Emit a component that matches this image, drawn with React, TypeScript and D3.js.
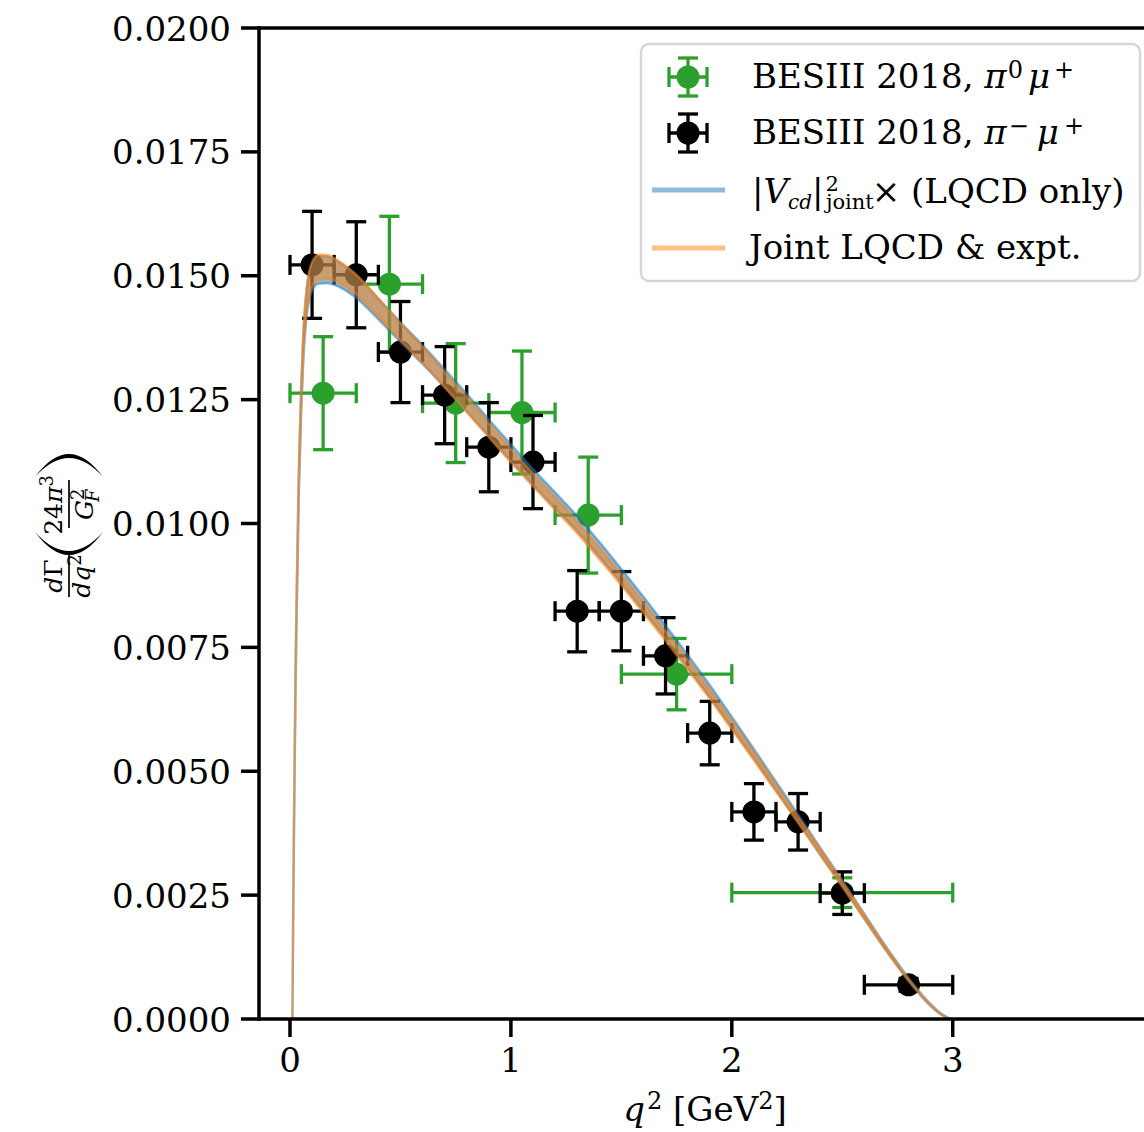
import React from "react";
import * as d3 from "d3";

// ---------- data ----------
const pi0X = [0.15, 0.45, 0.75, 1.05, 1.35, 1.75, 2.5];
const pi0Xerr = [0.15, 0.15, 0.15, 0.15, 0.15, 0.25, 0.5];
const pi0Y = [0.01263, 0.01483, 0.01243, 0.01224, 0.01017, 0.00696, 0.00255];
const pi0Yerr = [0.00114, 0.00137, 0.0012, 0.00124, 0.00117, 0.00072, 0.0003];

const piMX = [0.1, 0.3, 0.5, 0.7, 0.9, 1.1, 1.3, 1.5, 1.7, 1.9, 2.1, 2.3, 2.5, 2.8];
const piMXerr = [0.1, 0.1, 0.1, 0.1, 0.1, 0.1, 0.1, 0.1, 0.1, 0.1, 0.1, 0.1, 0.1, 0.2];
const piMY = [0.01522, 0.01502, 0.01346, 0.01259, 0.01154, 0.01124, 0.00823, 0.00823, 0.00733, 0.00577, 0.00418, 0.00398, 0.00254, 0.00069];
const piMYerr = [0.00108, 0.00107, 0.00102, 0.00098, 0.0009, 0.00094, 0.00082, 0.0008, 0.00077, 0.00064, 0.00057, 0.00057, 0.00043, 0.00013];

const qGrid = [0.0112, 0.014, 0.017, 0.02, 0.025, 0.03, 0.04, 0.05, 0.06, 0.075, 0.1, 0.13, 0.17, 0.22, 0.3, 0.4, 0.5, 0.6, 0.7, 0.8, 0.9, 1.0, 1.1, 1.2, 1.3, 1.4, 1.5, 1.6, 1.7, 1.8, 1.9, 2.0, 2.1, 2.2, 2.3, 2.4, 2.5, 2.6, 2.7, 2.8, 2.9, 2.95, 2.99];
const jointCentral = [0, 0.0018, 0.0034, 0.0047, 0.0068, 0.0084, 0.0109, 0.0125, 0.0136, 0.0145, 0.01503, 0.01518, 0.01518, 0.01508, 0.01482, 0.01436, 0.01387, 0.0134, 0.0129, 0.0124, 0.01188, 0.01137, 0.01088, 0.0104, 0.00992, 0.0094, 0.00886, 0.0083, 0.00773, 0.00715, 0.00655, 0.00593, 0.0053, 0.00466, 0.00402, 0.00337, 0.00272, 0.00206, 0.0014, 0.00079, 0.00028, 0.00009, 0];
const jointHalf = [0, 0.00005, 0.0001, 0.00013, 0.00016, 0.00018, 0.0002, 0.00022, 0.00023, 0.00024, 0.00025, 0.00025, 0.00024, 0.00022, 0.0002, 0.00018, 0.00017, 0.00016, 0.00015, 0.00015, 0.00014, 0.00014, 0.00013, 0.00013, 0.00012, 0.00012, 0.00011, 0.00011, 0.0001, 0.0001, 0.00009, 0.00009, 0.00008, 0.00007, 0.00006, 0.00006, 0.00005, 0.00004, 0.00003, 0.00002, 0.00001, 0.000005, 0];
const lqcdCentral = [0, 0.0018, 0.0034, 0.0047, 0.0068, 0.0083, 0.0108, 0.0124, 0.01352, 0.01443, 0.01497, 0.01512, 0.01512, 0.01503, 0.01478, 0.01433, 0.01386, 0.01341, 0.01293, 0.01244, 0.01193, 0.01143, 0.01094, 0.01047, 0.01, 0.00948, 0.00894, 0.00838, 0.00781, 0.00722, 0.00662, 0.00599, 0.00535, 0.0047, 0.00405, 0.00339, 0.00274, 0.00207, 0.00141, 0.0008, 0.00028, 0.00009, 0];
const lqcdHalf = [0, 0.00006, 0.00011, 0.00015, 0.00018, 0.0002, 0.00023, 0.00025, 0.00026, 0.00027, 0.00028, 0.00028, 0.00027, 0.00025, 0.00023, 0.00021, 0.0002, 0.00019, 0.00018, 0.00018, 0.00017, 0.00017, 0.00016, 0.00016, 0.00015, 0.00015, 0.00014, 0.00014, 0.00013, 0.00013, 0.00012, 0.00011, 0.0001, 0.00009, 0.00008, 0.00007, 0.00006, 0.00005, 0.00004, 0.00003, 0.00002, 0.00001, 0];

const yTicks = [0, 0.0025, 0.005, 0.0075, 0.01, 0.0125, 0.015, 0.0175, 0.02];
const xTicks = [0, 1, 2, 3];

// ---------- layout ----------
const W = 1144;
const H = 1132;
const L = 259, R = 1150, T = 28, B = 1019;
const FONT = "'DejaVu Serif', serif";
const GREEN = "#2ca02c";
const BLUE = "#1f77b4";
const ORANGE = "#ff7f0e";

const x = d3.scaleLinear().domain([-0.1403, 3.893]).range([L, R]);
const y = d3.scaleLinear().domain([0, 0.02]).range([B, T]);

function band(center: number[], half: number[]) {
  const pts = qGrid.map((q, i) => ({ q, lo: center[i] - half[i], hi: center[i] + half[i] }));
  return d3
    .area<{ q: number; lo: number; hi: number }>()
    .x((d) => x(d.q))
    .y0((d) => y(d.lo))
    .y1((d) => y(d.hi))
    .curve(d3.curveMonotoneX)(pts) as string;
}

function ErrSeries({ xs, xe, ys, ye, color }: { xs: number[]; xe: number[]; ys: number[]; ye: number[]; color: string }) {
  const lw = 3.3;
  const cap = 10;
  return (
    <g>
      {xs.map((v, i) => (
        <g key={"b" + i} stroke={color} strokeWidth={lw}>
          <line x1={x(v - xe[i])} x2={x(v + xe[i])} y1={y(ys[i])} y2={y(ys[i])} />
          <line x1={x(v)} x2={x(v)} y1={y(ys[i] - ye[i])} y2={y(ys[i] + ye[i])} />
        </g>
      ))}
      {xs.map((v, i) => (
        <g key={"c" + i} stroke={color} strokeWidth={lw}>
          <line x1={x(v - xe[i])} x2={x(v - xe[i])} y1={y(ys[i]) - cap} y2={y(ys[i]) + cap} />
          <line x1={x(v + xe[i])} x2={x(v + xe[i])} y1={y(ys[i]) - cap} y2={y(ys[i]) + cap} />
          <line x1={x(v) - cap} x2={x(v) + cap} y1={y(ys[i] - ye[i])} y2={y(ys[i] - ye[i])} />
          <line x1={x(v) - cap} x2={x(v) + cap} y1={y(ys[i] + ye[i])} y2={y(ys[i] + ye[i])} />
        </g>
      ))}
      {xs.map((v, i) => (
        <circle key={"m" + i} cx={x(v)} cy={y(ys[i])} r={11.5} fill={color} />
      ))}
    </g>
  );
}

function LegendErr({ cx, cy, color }: { cx: number; cy: number; color: string }) {
  const a = 19, cap = 10, lw = 3.3;
  return (
    <g stroke={color} strokeWidth={lw}>
      <line x1={cx - a} x2={cx + a} y1={cy} y2={cy} />
      <line x1={cx} x2={cx} y1={cy - a} y2={cy + a} />
      <line x1={cx - a} x2={cx - a} y1={cy - cap} y2={cy + cap} />
      <line x1={cx + a} x2={cx + a} y1={cy - cap} y2={cy + cap} />
      <line x1={cx - cap} x2={cx + cap} y1={cy - a} y2={cy - a} />
      <line x1={cx - cap} x2={cx + cap} y1={cy + a} y2={cy + a} />
      <circle cx={cx} cy={cy} r={11.5} fill={color} stroke="none" />
    </g>
  );
}

export default function App() {
  const blueBand = band(lqcdCentral, lqcdHalf);
  const orangeBand = band(jointCentral, jointHalf);
  const rows = [77, 133, 190, 248];
  const tx = 752;
  return (
    <svg
      width={W}
      height={H}
      viewBox={`0 0 ${W} ${H}`}
      style={{ position: "absolute", left: 0, top: 0, display: "block", background: "#fff" }}
      fontFamily={FONT}
    >
      <rect x={0} y={0} width={W} height={H} fill="#fff" />

      {/* data */}
      <ErrSeries xs={pi0X} xe={pi0Xerr} ys={pi0Y} ye={pi0Yerr} color={GREEN} />
      <ErrSeries xs={piMX} xe={piMXerr} ys={piMY} ye={piMYerr} color="#000" />

      {/* bands */}
      <path d={blueBand} fill={BLUE} fillOpacity={0.5} stroke={BLUE} strokeOpacity={0.5} strokeWidth={2.4} />
      <path d={orangeBand} fill={ORANGE} fillOpacity={0.5} stroke={ORANGE} strokeOpacity={0.5} strokeWidth={2.4} />

      {/* spines */}
      <g stroke="#000" strokeWidth={3.5} strokeLinecap="square">
        <line x1={L} x2={L} y1={T} y2={B} />
        <line x1={L} x2={R} y1={B} y2={B} />
        <line x1={L} x2={R} y1={T} y2={T} />
      </g>

      {/* y ticks */}
      {yTicks.map((t) => (
        <g key={"yt" + t}>
          <line x1={L - 18} x2={L} y1={y(t)} y2={y(t)} stroke="#000" strokeWidth={3.5} />
          <text x={231} y={y(t) + 12.5} fontSize={34} textAnchor="end">
            {t.toFixed(4)}
          </text>
        </g>
      ))}
      {/* x ticks */}
      {xTicks.map((t) => (
        <g key={"xt" + t}>
          <line x1={x(t)} x2={x(t)} y1={B} y2={B + 18} stroke="#000" strokeWidth={3.5} />
          <text x={x(t)} y={1072} fontSize={34} textAnchor="middle">
            {String(t)}
          </text>
        </g>
      ))}

      {/* x label */}
      <text x={705} y={1121} fontSize={34} textAnchor="middle">
        <tspan fontStyle="italic">q</tspan>
        <tspan fontSize={24} dy={-12} dx={2}>2</tspan>
        <tspan dy={12}> [GeV</tspan>
        <tspan fontSize={24} dy={-12}>2</tspan>
        <tspan dy={12}>]</tspan>
      </text>

      {/* y label: dΓ/dq² (24π³/G_F²) */}
      <g transform="translate(69,527) rotate(-90)">
        <text x={-49} y={-7} fontSize={25} textAnchor="middle">
          <tspan fontStyle="italic">d</tspan>Γ
        </text>
        <line x1={-70} x2={-28} y1={0} y2={0} stroke="#000" strokeWidth={1.7} />
        <text x={-49} y={21} fontSize={25} textAnchor="middle">
          <tspan fontStyle="italic">dq</tspan>
          <tspan fontSize={18} dy={-9}>2</tspan>
        </text>
        <path d="M -5,-34 Q -51,0 -5,34 Q -43,0 -5,-34 Z" fill="#000" />
        <text x={22} y={-7} fontSize={25} textAnchor="middle">
          24<tspan fontStyle="italic">π</tspan>
          <tspan fontSize={18} dy={-9}>3</tspan>
        </text>
        <line x1={-1} x2={47} y1={0} y2={0} stroke="#000" strokeWidth={1.7} />
        <text x={7} y={24} fontSize={25} fontStyle="italic">G</text>
        <text x={27} y={15} fontSize={18}>2</text>
        <text x={25} y={30} fontSize={18} fontStyle="italic">F</text>
        <path d="M 50,-34 Q 96,0 50,34 Q 88,0 50,-34 Z" fill="#000" />
      </g>

      {/* legend */}
      <rect x={641} y={44} width={499} height={237} rx={8} fill="#fff" fillOpacity={0.8} stroke="#cccccc" strokeOpacity={0.8} strokeWidth={2.5} />
      <LegendErr cx={688} cy={rows[0]} color={GREEN} />
      <LegendErr cx={688} cy={rows[1]} color="#000" />
      <line x1={652} x2={725} y1={rows[2]} y2={rows[2]} stroke={BLUE} strokeOpacity={0.5} strokeWidth={5} />
      <line x1={652} x2={725} y1={rows[3]} y2={rows[3]} stroke={ORANGE} strokeOpacity={0.5} strokeWidth={5} />

      <text x={tx} y={rows[0] + 11} fontSize={34}>
        BESIII 2018,{" "}
        <tspan fontStyle="italic">π</tspan>
        <tspan fontSize={24} dy={-10} dx={1}>0</tspan>
        <tspan fontStyle="italic" dy={10} dx={5}>μ</tspan>
        <tspan fontSize={24} dy={-10} dx={4}>+</tspan>
      </text>
      <text x={tx} y={rows[1] + 11} fontSize={34}>
        BESIII 2018,{" "}
        <tspan fontStyle="italic">π</tspan>
        <tspan fontSize={24} dy={-10} dx={2}>−</tspan>
        <tspan fontStyle="italic" dy={10} dx={8}>μ</tspan>
        <tspan fontSize={24} dy={-10} dx={5}>+</tspan>
      </text>
      <text x={tx} y={rows[2] + 13} fontSize={34}>
        |<tspan fontStyle="italic">V</tspan>
        <tspan fontStyle="italic" fontSize={20} dy={6}>cd</tspan>
        <tspan dy={-6}>|</tspan>
        <tspan fontSize={21} dy={-12} dx={2}>2</tspan>
        <tspan fontSize={21} dy={18} dx={-13}>joint</tspan>
        <tspan dy={-6} dx={-2}>×</tspan>
        <tspan> (LQCD only)</tspan>
      </text>
      <text x={tx - 3} y={rows[3] + 11} fontSize={34}>
        Joint LQCD &amp; expt.
      </text>
    </svg>
  );
}
